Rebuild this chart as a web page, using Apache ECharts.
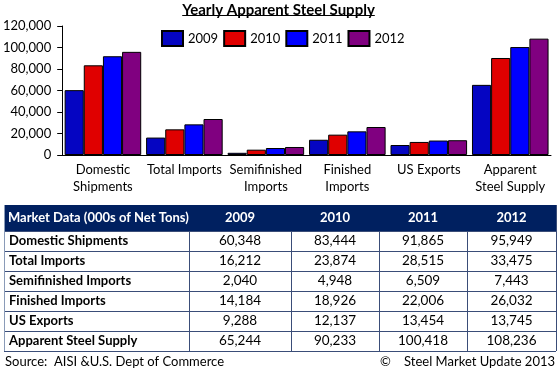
<!DOCTYPE html>
<html>
<head>
<meta charset="utf-8">
<script src="https://cdn.jsdelivr.net/npm/echarts@6/dist/echarts.min.js"></script>
<style>html,body{margin:0;padding:0;background:#fff}#c{width:557px;height:370px}</style>
</head>
<body>
<div id="c"></div>
<script>
const categories = ['Domestic\nShipments','Total Imports','Semifinished\nImports','Finished\nImports','US Exports','Apparent\nSteel Supply'];
const rowLabels = ['Domestic Shipments','Total Imports','Semifinished Imports','Finished Imports','US Exports','Apparent Steel Supply'];
const years = ['2009','2010','2011','2012'];
const v2009 = [60348,16212,2040,14184,9288,65244];
const v2010 = [83444,23874,4948,18926,12137,90233];
const v2011 = [91865,28515,6509,22006,13454,100418];
const v2012 = [95949,33475,7443,26032,13745,108236];
const yTicks = [0,20000,40000,60000,80000,100000,120000];
const titleText = 'Yearly Apparent Steel Supply';
const tableHeader = 'Market Data (000s of Net Tons)';
const sourceText = 'Source:  AISI &U.S. Dept of Commerce';
const creditText = '\u00A9    Steel Market Update 2013';

const seriesValues = [v2009, v2010, v2011, v2012];
const colors = ['#0505c2','#e00000','#0000ff','#800080'];
const FONT = 'Lato, "Liberation Sans", sans-serif';

const fmt = v => v.toLocaleString('en-US');

// measure title for underline
const mctx = document.createElement('canvas').getContext('2d');
mctx.font = 'bold 15px ' + FONT;
const titleW = mctx.measureText(titleText).width;
const titleCx = 557/2;

// table layout
const colX = [4,189,291,379,467,556];
const headTop = 205, headBottom = 231, rowH = 20;
const lineColor = '#3a4d78';
const graphics = [];
graphics.push({type:'rect', shape:{x:colX[0], y:headTop, width:colX[5]-colX[0], height:headBottom-headTop}, style:{fill:'#002060'}});
graphics.push({type:'text', x:colX[0]+4, y:(headTop+headBottom)/2, style:{text:tableHeader, fill:'#fff', font:'bold 13px '+FONT, verticalAlign:'middle', align:'left'}});
years.forEach((yr,i)=>{
  graphics.push({type:'text', x:(colX[i+1]+colX[i+2])/2, y:(headTop+headBottom)/2, style:{text:yr, fill:'#fff', font:'bold 13px '+FONT, verticalAlign:'middle', align:'center'}});
});
rowLabels.forEach((lab,r)=>{
  const yc = headBottom + rowH*r + rowH/2;
  graphics.push({type:'text', x:colX[0]+5, y:yc, style:{text:lab, fill:'#000', font:'bold 13px '+FONT, verticalAlign:'middle', align:'left'}});
  seriesValues.forEach((vals,i)=>{
    graphics.push({type:'text', x:(colX[i+1]+colX[i+2])/2, y:yc, style:{text:fmt(vals[r]), fill:'#000', font:'13.5px '+FONT, verticalAlign:'middle', align:'center'}});
  });
});
const tableBottom = headBottom + rowH*rowLabels.length;
for (let r=0; r<=rowLabels.length; r++){
  const y = headBottom + rowH*r + 0.5;
  graphics.push({type:'line', shape:{x1:colX[0], y1:y, x2:colX[5], y2:y}, style:{stroke:lineColor, lineWidth:1}});
}
colX.forEach((x,i)=>{
  graphics.push({type:'line', shape:{x1:x+0.5, y1:(i===0||i===5)?headTop:headBottom, x2:x+0.5, y2:tableBottom}, style:{stroke:(i===0)?'#8a9bb8':lineColor, lineWidth:1}});
});
graphics.push({type:'text', x:5, y:362, style:{text:sourceText, fill:'#000', font:'13px '+FONT, verticalAlign:'middle', align:'left'}});
graphics.push({type:'text', x:555, y:362, style:{text:creditText, fill:'#000', font:'13px '+FONT, verticalAlign:'middle', align:'right'}});
// title underline
graphics.push({type:'line', shape:{x1:titleCx-titleW/2, y1:15.5, x2:titleCx+titleW/2, y2:15.5}, style:{stroke:'#000', lineWidth:1}});

const chart = echarts.init(document.getElementById('c'), null, {renderer:'canvas'});
chart.setOption({
  animation:false,
  textStyle:{fontFamily:FONT},
  title:{text:titleText, left:'center', top:-2, textStyle:{fontFamily:FONT, fontSize:15, fontWeight:'bold', color:'#000'}},
  legend:{data:years, left:156, top:25, itemWidth:21, itemHeight:15, itemGap:5, icon:'rect', textStyle:{fontFamily:FONT, fontSize:13, color:'#000'}},
  grid:{left:58, right:6, top:26, bottom:215, containLabel:false},
  xAxis:{type:'category', data:categories,
    axisLine:{lineStyle:{color:'#000', width:1}}, axisTick:{show:false},
    axisLabel:{fontFamily:FONT, fontSize:13, color:'#000', lineHeight:17, margin:6, interval:0}},
  yAxis:{type:'value', min:0, max:120000, interval:20000,
    axisLine:{show:true, lineStyle:{color:'#000'}}, axisTick:{show:true, length:5, lineStyle:{color:'#000'}},
    splitLine:{show:false},
    axisLabel:{fontFamily:FONT, fontSize:13, color:'#000', margin:11, formatter:v=>fmt(v)}},
  series: years.map((yr,i)=>({name:yr, type:'bar', data:seriesValues[i], barGap:'0%', barCategoryGap:'6%',
    itemStyle:{color:colors[i], borderColor:'#000', borderWidth:1}})),
  graphic:graphics
});
</script>
</body>
</html>
